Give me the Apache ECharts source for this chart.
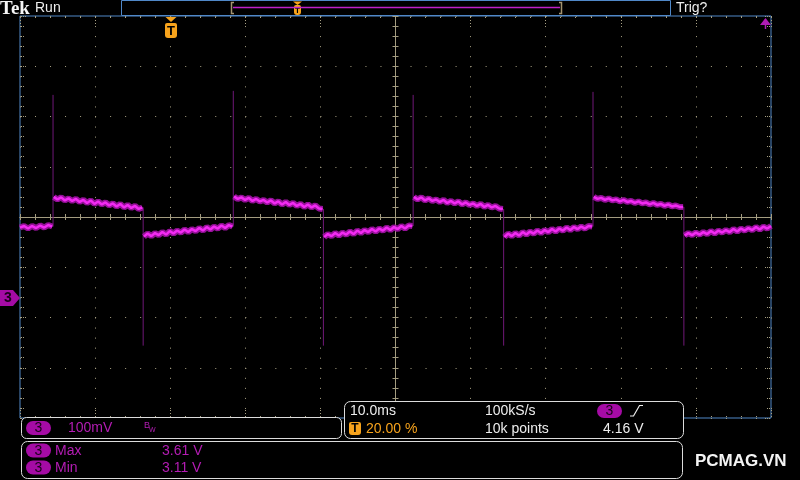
<!DOCTYPE html>
<html><head><meta charset="utf-8">
<script src="https://cdn.jsdelivr.net/npm/echarts@6/dist/echarts.min.js"></script>
<style>html,body{margin:0;padding:0;background:#000;}#c{width:800px;height:480px;}</style>
</head><body><div id="c"></div>
<script>
// ---- axes (10.0 ms/div, trigger at 20 %; 100 mV/div measured from screen centre) ----
const timeMin = -20, timeMax = 80, timeStep = 10;      // ms
const voltMin = -400, voltMax = 400, voltStep = 100;   // mV relative to centre graticule

// ---- trace segments (mV), sampled evenly between segStart and segEnd (ms) ----
const segStart = [-20, -15.5, -3.5, 8.5, 20.5, 32.45, 44.5, 56.4, 68.5];
const segEnd   = [-15.7, -3.7, 8.3, 20.3, 32.25, 44.3, 56.2, 68.3, 80];
const seg0 = [-21, -18, -23, -18, -22, -17, -21, -16, -19];
const seg1 = [40, 35, 39, 33, 37, 32, 36, 30, 34, 28, 33, 26, 31, 25, 29, 23, 27, 21, 26, 19, 24, 18, 22, 16, 19];
const seg2 = [-39, -33, -38, -32, -36, -30, -35, -28, -33, -27, -31, -25, -30, -24, -28, -22, -27, -20, -25, -19, -23, -17, -22, -16, -19];
const seg3 = [41, 36, 39, 34, 38, 32, 36, 31, 34, 29, 33, 27, 31, 25, 30, 24, 28, 22, 26, 20, 25, 19, 23, 17, 16];
const seg4 = [-40, -34, -38, -32, -37, -31, -35, -29, -34, -27, -32, -26, -30, -24, -29, -23, -27, -21, -26, -20, -24, -18, -23, -17, -18];
const seg5 = [40, 35, 39, 33, 37, 32, 35, 30, 34, 28, 32, 27, 31, 25, 29, 24, 27, 22, 26, 20, 24, 19, 22, 17, 16];
const seg6 = [-40, -33, -38, -32, -37, -30, -35, -29, -33, -27, -32, -26, -30, -24, -29, -23, -27, -21, -26, -20, -24, -19, -23, -18, -19];
const seg7 = [40, 36, 38, 34, 37, 33, 35, 31, 34, 30, 32, 28, 31, 27, 29, 25, 28, 24, 26, 22, 25, 21, 23, 20, 20];
const seg8 = [-37, -32, -36, -31, -35, -30, -34, -28, -33, -27, -31, -26, -30, -24, -29, -23, -27, -22, -26, -20, -25, -19, -23, -18];

// ---- edges and their spikes ----
const riseT = [-15.6, 8.4, 32.35, 56.3];
const spikeTop = [243, 251, 243, 249];
const fallT = [-3.6, 20.4, 44.4, 68.4];
const spikeBottom = [-256, -256, -256, -256];

// ---- readouts ----
const chScale = '100mV';
const timeScale = '10.0ms', sampleRate = '100kS/s', recLen = '10k points';
const trigPos = '20.00 %', trigLevel = '4.16 V';
const measNames = ['Max', 'Min'];
const measValues = ['3.61 V', '3.11 V'];

const BLUE = '#5088c8', DOT = '#a8a184', CROSS = '#a39c80';
const PILL = '#a50ba5', MAGT = '#b41cb4', ORANGE = '#f7a31c', WHITE = '#ededed';
const F14 = '14px "Liberation Sans"';

const segs = [seg0, seg1, seg2, seg3, seg4, seg5, seg6, seg7, seg8];
const trace = [];
segs.forEach((s, i) => {
  const n = s.length;
  s.forEach((v, k) => trace.push([segStart[i] + (segEnd[i] - segStart[i]) * k / (n - 1), v]));
  trace.push([segEnd[i], null]);
});
const edges = [];
riseT.forEach((t, i) => {
  const prev = segs[2 * i];
  edges.push([t, prev[prev.length - 1]], [t, spikeTop[i]], [t, null]);
});
fallT.forEach((t, i) => {
  const prev = segs[2 * i + 1];
  edges.push([t, prev[prev.length - 1]], [t, spikeBottom[i]], [t, null]);
});

const G = [];
function txt(x, y, s, fill, font, align) {
  G.push({ type: 'text', z: 100, style: { x, y, text: s, fill, font: font || F14, align: align || 'left', verticalAlign: 'middle' } });
}
function rect(x, y, w, h, r, fill, stroke, lw) {
  G.push({ type: 'rect', z: 100, shape: { x, y, width: w, height: h, r: r || 0 }, style: { fill: fill || 'transparent', stroke: stroke || 'transparent', lineWidth: lw || 1 } });
}
function poly(points, fill) { G.push({ type: 'polygon', z: 100, shape: { points }, style: { fill } }); }
function pline(points, stroke, lw) { G.push({ type: 'polyline', z: 101, shape: { points }, style: { stroke, lineWidth: lw || 1, fill: 'transparent' } }); }
function pill(x, y) { rect(x, y, 25, 14, 7, PILL); txt(x + 12.5, y + 7.5, '3', '#1a021a', F14, 'center'); }
function tBadge(x, y, w, h, fs) { rect(x, y, w, h, [2, 2, 3, 3], ORANGE); txt(x + w / 2, y + h / 2 + 0.5, 'T', '#000', 'bold ' + fs + 'px "Liberation Sans"', 'center'); }

// top bar
txt(0, 9, 'Tek', '#f6f6f6', 'bold 19px "Liberation Serif"');
txt(35, 8.5, 'Run', WHITE);
rect(121.5, 0.5, 549, 15, 0, '#000', BLUE);
G.push({ type: 'line', z: 101, shape: { x1: 233, y1: 7.5, x2: 560, y2: 7.5 }, style: { stroke: '#c020c8', lineWidth: 1.5 } });
pline([[234, 2.5], [231.5, 2.5], [231.5, 13.5], [234, 13.5]], '#a49470', 1.5);
pline([[559, 2.5], [561.5, 2.5], [561.5, 13.5], [559, 13.5]], '#a49470', 1.5);
poly([[293, 1.5], [302, 1.5], [297.5, 5]], ORANGE);
tBadge(294, 5, 7, 10, 8);
txt(676, 8, 'Trig?', WHITE);
// trigger position marker
poly([[165.5, 17], [176.5, 17], [171, 22]], ORANGE);
tBadge(165, 23, 12, 15, 13);
// trigger level (off screen above)
poly([[760, 25], [771, 25], [765.5, 18]], '#b01cb4');
pline([[765.5, 25], [765.5, 29]], '#b01cb4', 1.5);
// channel marker
poly([[0, 290], [13, 290], [20, 298], [13, 306], [0, 306]], PILL);
txt(8, 298.5, '3', '#1a021a', 'bold 14px "Liberation Sans"', 'center');

// bottom readouts
rect(21.5, 417.5, 320, 21, 5, '#000', '#dcdcdc');
pill(26, 421);
txt(68, 428.5, chScale, MAGT);
txt(144, 425.5, 'B', MAGT, '9px "Liberation Sans"');
txt(149, 430.5, 'W', MAGT, '7px "Liberation Sans"');

rect(344.5, 401.5, 339, 37, 6, '#000', '#dcdcdc');
txt(350, 411.5, timeScale, WHITE);
txt(485, 411.5, sampleRate, WHITE);
pill(597, 404);
pline([[630, 416], [633.5, 416], [639.5, 405.5], [643, 405.5]], WHITE, 1.2);
tBadge(349, 422, 12, 13, 12);
txt(366, 429, trigPos, ORANGE);
txt(485, 429, recLen, WHITE);
txt(603, 429, trigLevel, WHITE);

rect(21.5, 441.5, 661, 37, 6, '#000', '#dcdcdc');
measNames.forEach((m, i) => {
  const y = 443.5 + i * 17;
  pill(26, y);
  txt(55, y + 7.5, m, MAGT);
  txt(162, y + 7.5, measValues[i], MAGT);
});
txt(695, 461, 'PCMAG.VN', '#f4f4f4', 'bold 17px "Liberation Sans"');

function borderAxis(pos, max, vertical) {
  return {
    type: 'value', position: pos, min: 0, max: max, interval: 1, offset: -1,
    axisLine: { show: false, onZero: false }, axisLabel: { show: false }, splitLine: { show: false },
    axisTick: { show: true, inside: true, length: vertical ? 5 : 7, lineStyle: { color: DOT, width: 1, type: vertical ? [1, 1] : [1, 2] } },
    minorTick: { show: true, splitNumber: 5, length: vertical ? 3 : 1, lineStyle: { color: DOT, width: 1, type: [1, 1] } }
  };
}
function crossAxis(min, max, idx, inside) {
  return {
    type: 'value', min: min, max: max, interval: 1,
    axisLine: { show: true, onZero: true, onZeroAxisIndex: idx, lineStyle: { color: CROSS, width: 1 } },
    axisTick: { show: true, inside: inside, length: 3, lineStyle: { color: CROSS, width: 1 } },
    axisLabel: { show: false }, splitLine: { show: false }
  };
}

const option = {
  backgroundColor: '#000',
  animation: false,
  grid: { left: 20, top: 16, width: 751, height: 402, show: true, borderColor: BLUE, borderWidth: 1, backgroundColor: 'transparent' },
  xAxis: [
    { type: 'value', min: timeMin, max: timeMax, interval: timeStep,
      axisLine: { show: false, onZero: false }, axisTick: { show: false }, axisLabel: { show: false },
      splitLine: { show: true, lineStyle: { color: DOT, width: 1, type: [1, 9.05] } } },
    crossAxis(-25, 25, 0, false),
    crossAxis(-25, 25, 0, true),
    borderAxis('top', 10, false),
    borderAxis('bottom', 10, false)
  ],
  yAxis: [
    { type: 'value', min: voltMin, max: voltMax, interval: voltStep,
      axisLine: { show: false, onZero: false }, axisTick: { show: false }, axisLabel: { show: false },
      splitLine: { show: true, lineStyle: { color: DOT, width: 1, type: [1, 14.02] } } },
    crossAxis(-20, 20, 1, false),
    crossAxis(-20, 20, 1, true),
    borderAxis('left', 8, true),
    borderAxis('right', 8, true)
  ],
  series: [
    { type: 'line', data: edges, showSymbol: false, silent: true, connectNulls: false,
      lineStyle: { color: '#701878', width: 1 } },
    { type: 'line', data: trace, showSymbol: false, silent: true, connectNulls: false,
      lineStyle: { color: '#a412a8', width: 6, opacity: 0.9 } },
    { type: 'line', data: trace, showSymbol: false, silent: true, connectNulls: false,
      lineStyle: { color: '#f22af2', width: 2.5 } }
  ],
  graphic: { elements: G }
};
const chart = echarts.init(document.getElementById('c'), null, { renderer: 'canvas' });
chart.setOption(option);
</script></body></html>
